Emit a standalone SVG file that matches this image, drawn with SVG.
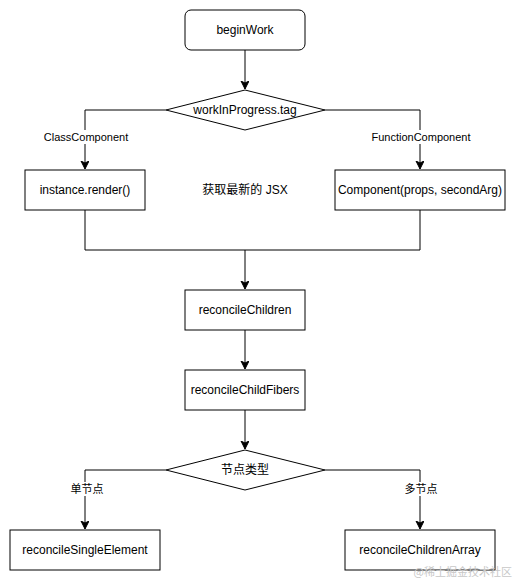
<svg xmlns="http://www.w3.org/2000/svg" width="516" height="581" viewBox="0 0 516 581">
<style>
.n{fill:#fff;stroke:#000;stroke-width:1}
.t{font-family:"Liberation Sans",Arial,"Noto Sans CJK SC",sans-serif;font-size:12px;fill:#000;text-anchor:middle;dominant-baseline:central}
.l{font-family:"Liberation Sans",Arial,"Noto Sans CJK SC",sans-serif;font-size:11px;fill:#000;text-anchor:middle;dominant-baseline:central}
.e{fill:none;stroke:#000;stroke-width:1}
</style>
<defs>
<marker id="a" markerWidth="10" markerHeight="10" refX="8" refY="4" orient="auto" markerUnits="userSpaceOnUse">
<path d="M0,0 L8,4 L0,8 L2,4 Z" fill="#000" stroke="#000" stroke-width="1"/>
</marker>
</defs>
<rect width="516" height="581" fill="#fff"/>
<g id="connectors">
<path class="e" d="M245,50 V89" marker-end="url(#a)"/>
<path class="e" d="M166,110 H85 V169" marker-end="url(#a)"/>
<path class="e" d="M325,110 H420 V169" marker-end="url(#a)"/>
<path class="e" d="M85,210 V250 H420 V210"/>
<path class="e" d="M245,250 V289" marker-end="url(#a)"/>
<path class="e" d="M245,330 V369" marker-end="url(#a)"/>
<path class="e" d="M245,410 V449" marker-end="url(#a)"/>
<path class="e" d="M166,470 H85 V529" marker-end="url(#a)"/>
<path class="e" d="M325,470 H420 V529" marker-end="url(#a)"/>
<rect x="40" y="130" width="92" height="14" fill="#fff"/>
<text class="l" x="86" y="137">ClassComponent</text>
<rect x="370" y="130" width="102" height="14" fill="#fff"/>
<text class="l" x="421" y="137">FunctionComponent</text>
<rect x="68" y="482" width="38" height="14" fill="#fff"/>
<text class="l" x="87" y="489">单节点</text>
<rect x="402" y="482" width="38" height="14" fill="#fff"/>
<text class="l" x="421" y="489">多节点</text>
</g>
<g id="beginWork">
<rect class="n" x="185" y="10" width="120" height="40" rx="6"/>
<text class="t" x="245" y="30">beginWork</text>
</g>
<g id="tag">
<path class="n" d="M245,90 L325,110 L245,130 L166,110 Z"/>
<text class="t" x="245" y="110">workInProgress.tag</text>
</g>
<g id="render">
<rect class="n" x="25" y="170" width="120" height="40"/>
<text class="t" x="85" y="190">instance.render()</text>
</g>
<g id="jsx">
<text class="t" x="245" y="190">获取最新的 JSX</text>
</g>
<g id="component">
<rect class="n" x="335" y="170" width="170" height="40"/>
<text class="t" x="420" y="190">Component(props, secondArg)</text>
</g>
<g id="reconcileChildren">
<rect class="n" x="185" y="290" width="120" height="40"/>
<text class="t" x="245" y="310">reconcileChildren</text>
</g>
<g id="reconcileChildFibers">
<rect class="n" x="185" y="370" width="120" height="40"/>
<text class="t" x="245" y="390">reconcileChildFibers</text>
</g>
<g id="nodeType">
<path class="n" d="M245,450 L325,470 L245,490 L166,470 Z"/>
<text class="t" x="245" y="470">节点类型</text>
</g>
<g id="single">
<rect class="n" x="10" y="530" width="150" height="40"/>
<text class="t" x="85" y="550">reconcileSingleElement</text>
</g>
<g id="array">
<rect class="n" x="345" y="530" width="150" height="40"/>
<text class="t" x="420" y="550">reconcileChildrenArray</text>
</g>
<text x="512" y="576" font-family="'Noto Sans CJK SC',sans-serif" font-size="11" fill="#c8c8c8" text-anchor="end">@稀土掘金技术社区</text>
</svg>
